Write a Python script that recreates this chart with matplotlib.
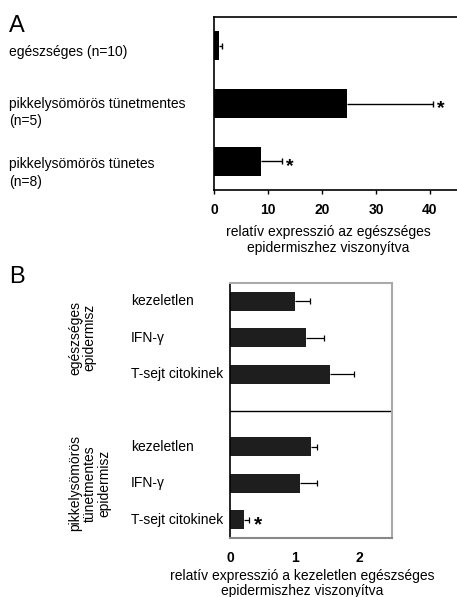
import matplotlib
matplotlib.use("Agg")
import matplotlib.pyplot as plt
from matplotlib.transforms import offset_copy, blended_transform_factory

plt.rcParams['font.family'] = ['Liberation Sans', 'DejaVu Sans']

# Panel A data
a_labels = ["egészséges (n=10)", "pikkelysömörös tünetmentes\n(n=5)", "pikkelysömörös tünetes\n(n=8)"]
a_values = [1.0, 24.7, 8.7]
a_errors = [0.4, 15.9, 3.9]
a_signif = [False, True, True]
a_ticks = [0, 10, 20, 30, 40]
a_xlabel = "relatív expresszió az egészséges\nepidermiszhez viszonyítva"

# Panel B data
b_groups = ["egészséges\nepidermisz", "pikkelysömörös\ntünetmentes\nepidermisz"]
b_labels = ["kezeletlen", "IFN-γ", "T-sejt citokinek"]
b_values = [[1.0, 1.18, 1.55], [1.25, 1.085, 0.217]]
b_errors = [[0.24, 0.27, 0.37], [0.10, 0.25, 0.07]]
b_signif = [[False, False, False], [False, False, True]]
b_ticks = [0, 1, 2]
b_xlabel = "relatív expresszió a kezeletlen egészséges\nepidermiszhez viszonyítva"

W, H = 457, 597
fig = plt.figure(figsize=(W / 100, H / 100), dpi=100)

def fx(px):
    return px / W

def fy(py):
    return 1 - py / H

def upper_err(ax, vals, ys, errs, lw, cap):
    ends = [v + e for v, e in zip(vals, errs)]
    ax.hlines(ys, vals, ends, colors='black', lw=lw, zorder=3)
    ax.plot(ends, ys, ls='none', marker='|', ms=cap, mew=lw, color='black', zorder=3)

# ---------- Panel A ----------
axA = fig.add_axes([fx(214), fy(190), fx(457) - fx(214), fy(17) - fy(190)])
ya = list(range(len(a_values)))
axA.barh(ya, a_values, height=0.5, color='black', zorder=2)
upper_err(axA, a_values, ya, a_errors, 1.0, 4)
axA.set_xlim(0, 45)
axA.set_ylim(2.5, -0.5)
axA.set_yticks([])
axA.set_xticks(a_ticks)
axA.set_xticklabels([str(t) for t in a_ticks], fontweight='bold', fontsize=10)
axA.tick_params(axis='x', direction='out', length=3, width=1, pad=6)
axA.spines['right'].set_visible(False)
for s in ['top', 'left', 'bottom']:
    axA.spines[s].set_linewidth(1.2)
    axA.spines[s].set_color('black')

trA = blended_transform_factory(fig.transFigure, axA.transData)
a_label_shift = [0.1, 0.0, 0.05]
for i, lab in enumerate(a_labels):
    for j, line in enumerate(lab.split("\n")):
        axA.text(fx(9), ya[i] + a_label_shift[i] + j * 0.31, line, transform=trA,
                 ha='left', va='center', fontsize=10)
for i, sig in enumerate(a_signif):
    if sig:
        t = offset_copy(axA.transData, fig=fig, x=4, y=-10, units='dots')
        axA.text(a_values[i] + a_errors[i], ya[i], "*", transform=t,
                 ha='left', va='baseline', fontsize=14, fontweight='bold')

fig.text(fx(328), fy(240), a_xlabel, ha='center', va='center', fontsize=10,
         linespacing=1.15, multialignment='center')
fig.text(fx(9), fy(32), "A", ha='left', va='baseline', fontsize=17)

# ---------- Panel B ----------
axB = fig.add_axes([fx(230), fy(538), fx(392) - fx(230), fy(283) - fy(538)])
gap = 1
yb = []
for g in range(len(b_groups)):
    yb.append([g * (len(b_labels) + gap) + k for k in range(len(b_labels))])
for g in range(len(b_groups)):
    axB.barh(yb[g], b_values[g], height=0.52, color='#1e1e1e', zorder=2)
    upper_err(axB, b_values[g], yb[g], b_errors[g], 0.9, 5)
axB.axhline(len(b_labels) + gap / 2 - 0.5, color='black', lw=1)
axB.set_xlim(0, 2.5)
axB.set_ylim(yb[-1][-1] + 0.5, -0.5)
axB.set_yticks([])
axB.set_xticks(b_ticks)
axB.set_xticklabels([str(t) for t in b_ticks], fontweight='bold', fontsize=10)
axB.tick_params(axis='x', length=0, pad=9)
axB.spines['left'].set_color('black')
axB.spines['left'].set_linewidth(1.2)
for s in ['top', 'right']:
    axB.spines[s].set_color('#aaaaaa')
    axB.spines[s].set_linewidth(1.5)
axB.spines['bottom'].set_color('#888888')
axB.spines['bottom'].set_linewidth(1.5)

trB = blended_transform_factory(fig.transFigure, axB.transData)
for g in range(len(b_groups)):
    for k, lab in enumerate(b_labels):
        axB.text(fx(131), yb[g][k], lab, transform=trB, ha='left', va='center', fontsize=10)
    mid = (yb[g][0] + yb[g][-1]) / 2
    axB.text(fx(68), mid, b_groups[g], transform=trB, rotation=90, ha='left', va='center',
             fontsize=10, linespacing=1.05, multialignment='center')
    for k, sig in enumerate(b_signif[g]):
        if sig:
            t = offset_copy(axB.transData, fig=fig, x=5, y=-11, units='dots')
            axB.text(b_values[g][k] + b_errors[g][k], yb[g][k], "*", transform=t,
                     ha='left', va='baseline', fontsize=15, fontweight='bold')

fig.text(fx(302), fy(583.5), b_xlabel, ha='center', va='center', fontsize=10,
         linespacing=1.15, multialignment='center')
fig.text(fx(9), fy(283), "B", ha='left', va='baseline', fontsize=17)

fig.savefig("out.png", dpi=100)
